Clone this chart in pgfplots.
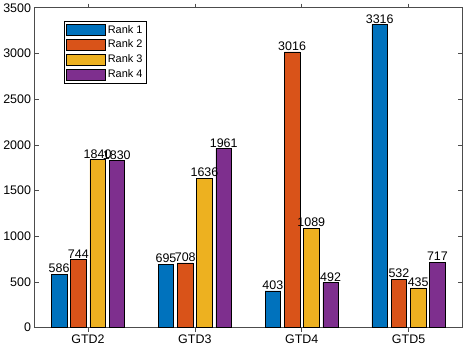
\documentclass[border=0pt]{standalone}
\usepackage{fontspec}
\setmainfont{Liberation Sans}
\usepackage{pgfplots}
\pgfplotsset{compat=1.18}
\definecolor{c1}{rgb}{0,0.447,0.741}
\definecolor{c2}{rgb}{0.85,0.325,0.098}
\definecolor{c3}{rgb}{0.929,0.694,0.125}
\definecolor{c4}{rgb}{0.494,0.184,0.556}
\begin{document}
\begin{tikzpicture}
\begin{axis}[
  scale only axis, width=427.5bp, height=320bp,
  xmin=0.5, xmax=4.5, ymin=0, ymax=3500,
  xtick={1,2,3,4}, xticklabels={GTD2,GTD3,GTD4,GTD5},
  ytick={0,500,...,3500},
  tick align=inside, major tick length=4bp,
  axis line style={draw=black!70, line width=0.6bp},
  tick style={draw=black!70, line width=0.6bp},
  ticklabel style={font=\fontsize{12.5}{14}\selectfont},
  /pgf/number format/assume math mode=true,
  /pgf/number format/1000 sep={},
  ybar, bar width=0.145,
  every axis plot/.append style={draw=black, line width=0.5bp},
  nodes near coords,
  every node near coord/.append style={font=\fontsize{12.5}{14}\selectfont, inner sep=1bp, text=black},
  legend style={at={(0.069,0.959)}, anchor=north west, draw=black, line width=0.6bp,
    font=\fontsize{11}{13}\selectfont, cells={anchor=west}, row sep=1.5bp, inner sep=2bp},
  legend image code/.code={\draw[#1] (0bp,-5.5bp) rectangle (39bp,5.5bp);},
]
\addplot[fill=c1, bar shift=-0.27] coordinates {(1,586) (2,695) (3,403) (4,3316)};
\addplot[fill=c2, bar shift=-0.09] coordinates {(1,744) (2,708) (3,3016) (4,532)};
\addplot[fill=c3, bar shift=0.09] coordinates {(1,1840) (2,1636) (3,1089) (4,435)};
\addplot[fill=c4, bar shift=0.27] coordinates {(1,1830) (2,1961) (3,492) (4,717)};
\legend{Rank 1, Rank 2, Rank 3, Rank 4}
\coordinate (sw) at (rel axis cs:0,0);
\coordinate (ne) at (rel axis cs:1,1);
\end{axis}
\path ([xshift=-34.5bp,yshift=-21bp]sw) rectangle ([xshift=2bp,yshift=5bp]ne);
\end{tikzpicture}
\end{document}
